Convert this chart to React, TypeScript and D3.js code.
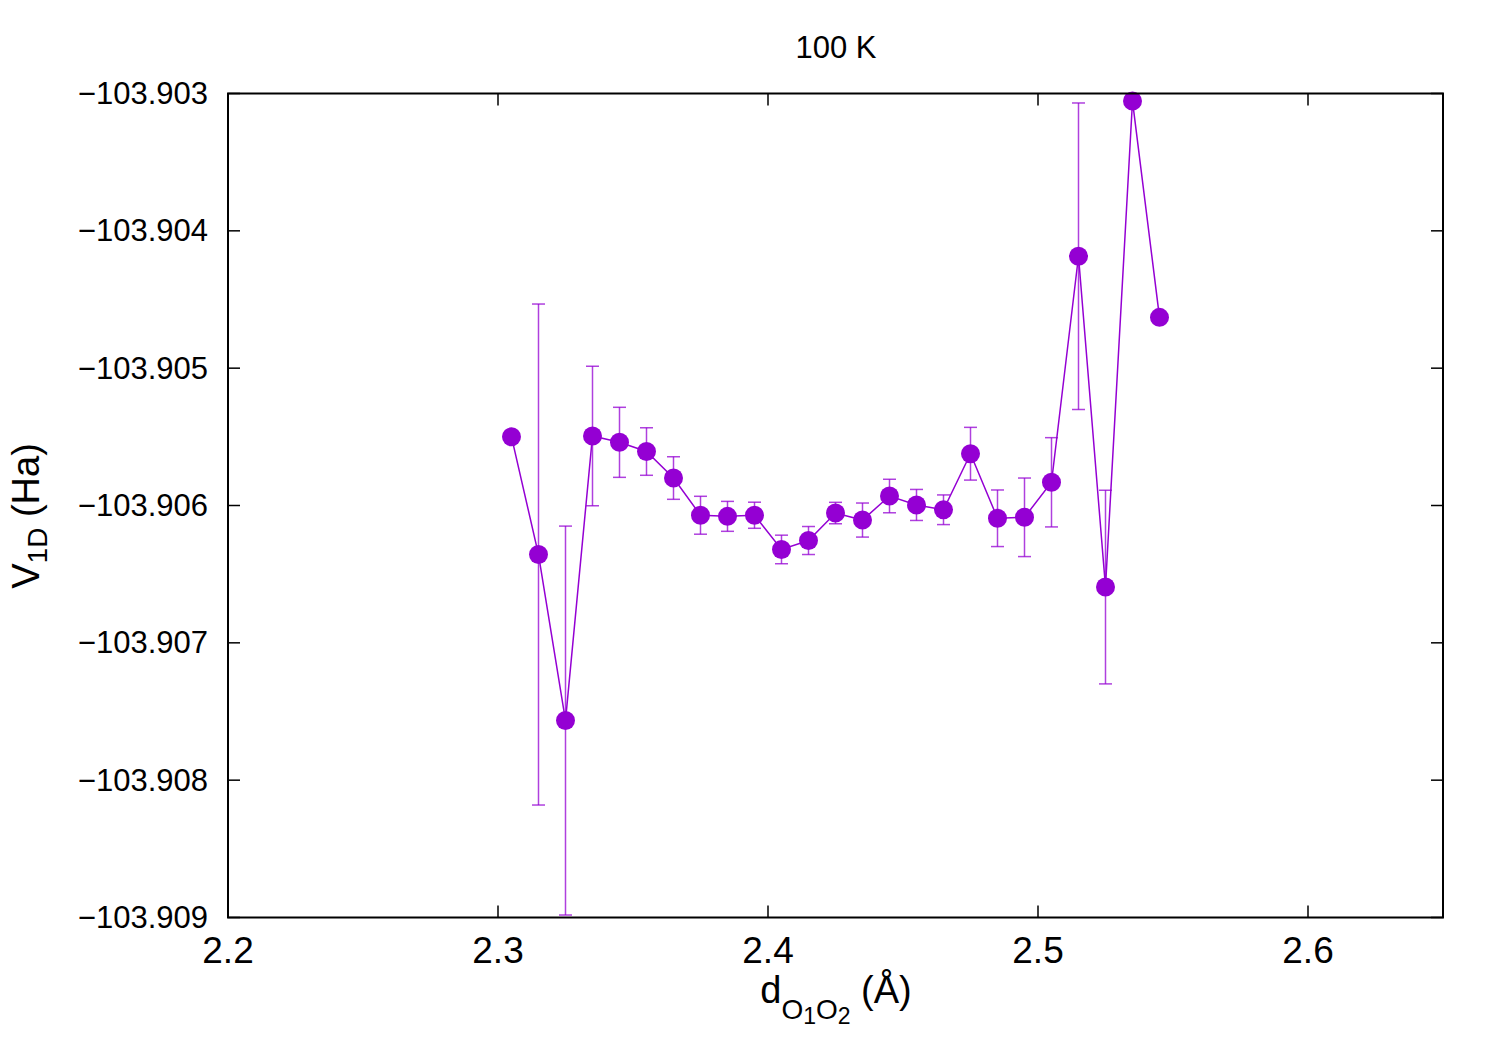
import React from "react";
import * as d3 from "d3";

// d(O1-O2) in Angstrom
const distances = [
  2.305, 2.315, 2.325, 2.335, 2.345, 2.355, 2.365, 2.375, 2.385, 2.395, 2.405,
  2.415, 2.425, 2.435, 2.445, 2.455, 2.465, 2.475, 2.485, 2.495, 2.505, 2.515,
  2.525, 2.535, 2.545,
];

// V_1D (Ha)
const potential = [
  -103.9055, -103.906357, -103.907566, -103.905494, -103.90554, -103.905607,
  -103.9058, -103.906071, -103.906079, -103.906071, -103.90632, -103.906255,
  -103.906055, -103.906106, -103.905931, -103.905996, -103.906031, -103.905623,
  -103.906093, -103.906086, -103.905831, -103.904185, -103.906594, -103.903055,
  -103.90463,
];

// error bars (Ha), 0 = none drawn
const potentialErr = [
  0, 0.001824, 0.001416, 0.000508, 0.000255, 0.000173, 0.000155, 0.000138,
  0.000109, 0.000095, 0.000104, 0.000102, 0.000078, 0.000124, 0.000122,
  0.000113, 0.000108, 0.000192, 0.000206, 0.000286, 0.000325, 0.001116,
  0.000705, 0, 0,
];

const xTicks = [2.2, 2.3, 2.4, 2.5, 2.6];
const yTicks = [-103.909, -103.908, -103.907, -103.906, -103.905, -103.904, -103.903];

const W = 1500;
const H = 1050;
const margin = { top: 93.5, right: 57, bottom: 132.5, left: 228 };
const color = "#9400d3";
const font = "'Liberation Sans', Arial, sans-serif";

export default function App() {
  const x = d3
    .scaleLinear()
    .domain([2.2, 2.65])
    .range([margin.left, W - margin.right]);
  const y = d3
    .scaleLinear()
    .domain([-103.909, -103.903])
    .range([H - margin.bottom, margin.top]);

  const pts = distances.map((d, i) => ({
    d,
    v: potential[i],
    e: potentialErr[i],
  }));

  const line = d3
    .line<{ d: number; v: number }>()
    .x((p) => x(p.d))
    .y((p) => y(p.v));

  const [x0, x1] = x.range();
  const [y0, y1] = y.range(); // y0 bottom, y1 top
  const tick = 12;
  const fmt = (v: number) => "\u2212" + Math.abs(v).toFixed(3);

  return (
    <>
      <style>{`body{margin:0}`}</style>
      <svg width={W} height={H} style={{ display: "block", background: "#fff" }} fontFamily={font}>
        {/* title */}
        <text x={836} y={58} fontSize={31} textAnchor="middle" fill="#000">
          100 K
        </text>

        {/* ticks (mirrored, inward) */}
        <g stroke="#000" strokeWidth={1.5}>
          {yTicks.map((t) => (
            <g key={"y" + t}>
              <line x1={x0} x2={x0 + tick} y1={y(t)} y2={y(t)} />
              <line x1={x1} x2={x1 - tick} y1={y(t)} y2={y(t)} />
            </g>
          ))}
          {xTicks.map((t) => (
            <g key={"x" + t}>
              <line x1={x(t)} x2={x(t)} y1={y0} y2={y0 - tick} />
              <line x1={x(t)} x2={x(t)} y1={y1} y2={y1 + tick} />
            </g>
          ))}
        </g>

        {/* tick labels */}
        {yTicks.map((t) => (
          <text key={"yl" + t} x={208} y={y(t) + 10.5} fontSize={31} textAnchor="end" fill="#000">
            {fmt(t)}
          </text>
        ))}
        {xTicks.map((t) => (
          <text key={"xl" + t} x={x(t)} y={963} fontSize={37} textAnchor="middle" fill="#000">
            {t.toFixed(1)}
          </text>
        ))}

        {/* axis labels */}
        <text x={836} y={1003} fontSize={38} textAnchor="middle" fill="#000">
          d
          <tspan fontSize={28} dy={16}>O</tspan>
          <tspan fontSize={23} dy={5}>1</tspan>
          <tspan fontSize={28} dy={-5}>O</tspan>
          <tspan fontSize={23} dy={5}>2</tspan>
          <tspan dy={-21}> (Å)</tspan>
        </text>
        <text
          transform={`translate(39,516) rotate(-90)`}
          fontSize={38}
          textAnchor="middle"
          fill="#000"
        >
          V
          <tspan fontSize={28} dy={8}>1D</tspan>
          <tspan dy={-8}> (Ha)</tspan>
        </text>

        {/* error bars */}
        <g stroke={color} strokeWidth={1.5} strokeOpacity={0.75}>
          {pts
            .filter((p) => p.e > 0)
            .map((p) => {
              const cx = x(p.d);
              const top = y(p.v + p.e);
              const bot = y(p.v - p.e);
              return (
                <g key={"e" + p.d}>
                  <line x1={cx} x2={cx} y1={top} y2={bot} />
                  <line x1={cx - 6.5} x2={cx + 6.5} y1={top} y2={top} />
                  <line x1={cx - 6.5} x2={cx + 6.5} y1={bot} y2={bot} />
                </g>
              );
            })}
        </g>

        {/* line */}
        <path d={line(pts) ?? ""} fill="none" stroke={color} strokeWidth={1.5} />

        {/* points */}
        {pts.map((p) => (
          <circle key={"p" + p.d} cx={x(p.d)} cy={y(p.v)} r={9.5} fill={color} />
        ))}

        {/* frame */}
        <rect
          x={x0}
          y={y1}
          width={x1 - x0}
          height={y0 - y1}
          fill="none"
          stroke="#000"
          strokeWidth={2}
        />
      </svg>
    </>
  );
}
